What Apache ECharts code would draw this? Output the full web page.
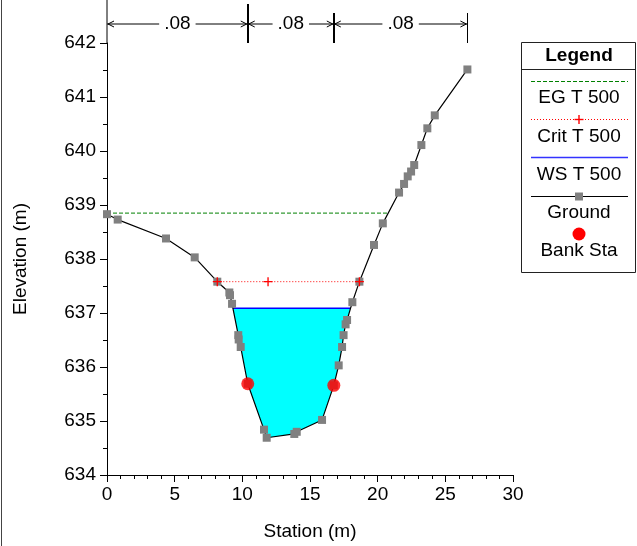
<!DOCTYPE html>
<html><head><meta charset="utf-8">
<script src="https://cdn.jsdelivr.net/npm/echarts@6/dist/echarts.min.js"></script>
<style>html,body{margin:0;padding:0;background:#fff}#c{width:637px;height:546px}</style>
</head><body><div id="c"></div>
<script>
// ---- data ----
const groundX = [0, 0.79, 4.36, 6.48, 8.15, 9.04, 9.09, 9.24, 9.70, 9.73, 9.88, 10.40, 11.60, 11.80, 13.84, 14.02, 15.89, 16.76, 17.12, 17.37, 17.48, 17.63, 17.74, 18.13, 18.65, 19.73, 20.38, 21.58, 21.95, 22.22, 22.47, 22.70, 23.23, 23.67, 24.22, 26.63];
const groundY = [638.83, 638.73, 638.38, 638.03, 637.58, 637.38, 637.33, 637.17, 636.59, 636.51, 636.37, 635.69, 634.84, 634.69, 634.76, 634.80, 635.02, 635.66, 636.03, 636.37, 636.59, 636.79, 636.87, 637.20, 637.58, 638.26, 638.66, 639.23, 639.39, 639.53, 639.62, 639.74, 640.11, 640.42, 640.66, 641.51];
const bankX = [10.40, 16.76];
const bankY = [635.69, 635.66];
const egElev = 638.85;
const egX = [0, 20.78];
const critElev = 637.58;
const critX = [8.15, 11.9, 18.65];
const wsElev = 637.09;
const nBreaks = [0, 10.40, 16.76, 26.63];
const nLabels = ['.08', '.08', '.08'];
const legendNames = ['EG T 500', 'Crit T 500', 'WS T 500', 'Ground', 'Bank Sta'];

const FONT = "'Liberation Sans', Arial, sans-serif";
const FS = 19;

// water polygon from ground and water surface
const waterPoly = [];
for (let i = 0; i < groundX.length - 1; i++) {
  const x0 = groundX[i], y0 = groundY[i], x1 = groundX[i+1], y1 = groundY[i+1];
  if (y0 <= wsElev) waterPoly.push([x0, y0]);
  if ((y0 - wsElev) * (y1 - wsElev) < 0) {
    const t = (wsElev - y0) / (y1 - y0);
    waterPoly.push([x0 + t * (x1 - x0), wsElev]);
  }
}
const wsEnds = waterPoly.filter(p => p[1] === wsElev).map(p => p[0]);

const chart = echarts.init(document.getElementById('c'), null, {renderer: 'canvas'});

const crossPath = 'path://M4,0h1.4v4h4v1.4h-4v4h-1.4v-4h-4v-1.4h4z';

const option = {
  animation: false,
  backgroundColor: '#fff',
  grid: {left: 107, right: 124, top: 43, bottom: 68},
  xAxis: {
    type: 'value', min: 0, max: 30, interval: 5,
    name: 'Station (m)', nameLocation: 'middle', nameGap: 47,
    nameTextStyle: {fontFamily: FONT, fontSize: FS, color: '#000'},
    axisLine: {show: true, lineStyle: {color: '#000', width: 1}},
    axisTick: {show: true, length: 7, lineStyle: {color: '#000'}},
    minorTick: {show: true, splitNumber: 5, length: 4, lineStyle: {color: '#000'}},
    axisLabel: {fontFamily: FONT, fontSize: FS, color: '#000', margin: 10},
    splitLine: {show: false}
  },
  yAxis: {
    type: 'value', min: 634, max: 642, interval: 1,
    name: 'Elevation (m)', nameLocation: 'middle', nameGap: 77, nameRotate: 90,
    nameTextStyle: {fontFamily: FONT, fontSize: FS, color: '#000'},
    axisLine: {show: true, lineStyle: {color: '#000', width: 1}},
    axisTick: {show: true, length: 7, lineStyle: {color: '#000'}},
    minorTick: {show: true, splitNumber: 2, length: 4, lineStyle: {color: '#000'}},
    axisLabel: {fontFamily: FONT, fontSize: FS, color: '#000', margin: 11},
    splitLine: {show: false}
  },
  series: [
    {
      type: 'custom', name: 'water', clip: false, z: 1,
      data: [0],
      renderItem: function (params, api) {
        return {
          type: 'polygon',
          shape: {points: waterPoly.map(p => api.coord(p))},
          style: {fill: '#00ffff', stroke: 'none'}
        };
      }
    },
    {
      type: 'line', name: legendNames[2], z: 3,
      data: wsEnds.map(x => [x, wsElev]),
      symbol: 'none',
      lineStyle: {color: '#0000ff', width: 1.5}
    },
    {
      type: 'line', name: legendNames[0], z: 3,
      data: egX.map(x => [x, egElev]),
      symbol: 'none',
      lineStyle: {color: '#008000', width: 1, type: [4, 2]}
    },
    {
      type: 'line', name: legendNames[3], z: 5,
      data: groundX.map((x, i) => [x, groundY[i]]),
      symbol: 'rect', symbolSize: 8, showAllSymbol: true,
      itemStyle: {color: '#808080'},
      lineStyle: {color: '#000', width: 1.2}
    },
    {
      type: 'line', name: legendNames[1], z: 8,
      data: critX.map(x => [x, critElev]),
      symbol: crossPath, symbolSize: 9,
      itemStyle: {color: '#ff0000'},
      lineStyle: {color: '#ff0000', width: 1, type: [1, 2]}
    },
    {
      type: 'scatter', name: legendNames[4], z: 6,
      data: bankX.map((x, i) => [x, bankY[i]]),
      symbol: 'circle', symbolSize: 13,
      itemStyle: {color: '#ff0000'}
    },
    {
      type: 'custom', name: 'nvalues', clip: false, z: 7,
      data: nLabels.map((l, i) => [nBreaks[i], nBreaks[i + 1]]),
      renderItem: function (params, api) {
        const i = params.dataIndex;
        const p0 = api.coord([api.value(0), 642]);
        const p1 = api.coord([api.value(1), 642]);
        const ay = p0[1] - 19;
        const children = [];
        children.push({type: 'line', shape: {x1: p0[0], y1: ay, x2: p1[0], y2: ay}, style: {stroke: '#000', lineWidth: 1}});
        children.push({type: 'polyline', shape: {points: [[p0[0] + 7, ay - 3], [p0[0] + 1, ay], [p0[0] + 7, ay + 3]]}, style: {stroke: '#000', fill: 'none', lineWidth: 1}});
        children.push({type: 'polyline', shape: {points: [[p1[0] - 7, ay - 3], [p1[0] - 1, ay], [p1[0] - 7, ay + 3]]}, style: {stroke: '#000', fill: 'none', lineWidth: 1}});
        const last = i === nLabels.length - 1;
        const topY = i === 0 ? p0[1] - 39 : p0[1] - 30;
        const vx = Math.round(p1[0]) + (last ? 0.5 : 0);
        children.push({type: 'line', shape: {x1: vx, y1: topY, x2: vx, y2: p0[1]}, style: {stroke: '#000', lineWidth: last ? 1 : 2}});
        children.push({type: 'text', x: (p0[0] + p1[0]) / 2, y: ay, style: {text: nLabels[i], fontFamily: FONT, fontSize: FS, fill: '#000', align: 'center', verticalAlign: 'middle', backgroundColor: '#fff', padding: [0, 5]}});
        if (i === 0) {
          children.push({type: 'line', shape: {x1: p0[0], y1: 0, x2: p0[0], y2: p0[1]}, style: {stroke: '#000', lineWidth: 1}});
        }
        return {type: 'group', children: children};
      }
    }
  ],
  graphic: [
    {type: 'line', shape: {x1: 1.5, y1: 0, x2: 1.5, y2: 546}, style: {stroke: '#444', lineWidth: 1}},
    {type: 'rect', shape: {x: 521.5, y: 42.5, width: 114, height: 230}, style: {fill: '#fff', stroke: '#222', lineWidth: 1}},
    {type: 'text', x: 579, y: 56, style: {text: 'Legend', font: 'bold ' + FS + 'px ' + FONT, fill: '#000', align: 'center', verticalAlign: 'middle'}},
    {type: 'line', shape: {x1: 521.5, y1: 69.5, x2: 635.5, y2: 69.5}, style: {stroke: '#222', lineWidth: 1}},
    {type: 'line', shape: {x1: 531, y1: 81.5, x2: 628, y2: 81.5}, style: {stroke: '#008000', lineWidth: 1, lineDash: [4, 2]}},
    {type: 'text', x: 579, y: 98, style: {text: legendNames[0], font: FS + 'px ' + FONT, fill: '#000', align: 'center', verticalAlign: 'middle'}},
    {type: 'line', shape: {x1: 531, y1: 119.5, x2: 628, y2: 119.5}, style: {stroke: '#ff0000', lineWidth: 1, lineDash: [1, 2]}},
    {type: 'rect', shape: {x: 578.3, y: 115, width: 1.4, height: 9}, style: {fill: '#ff0000'}},
    {type: 'rect', shape: {x: 574.5, y: 118.8, width: 9, height: 1.4}, style: {fill: '#ff0000'}},
    {type: 'text', x: 579, y: 136.5, style: {text: legendNames[1], font: FS + 'px ' + FONT, fill: '#000', align: 'center', verticalAlign: 'middle'}},
    {type: 'line', shape: {x1: 531, y1: 157.5, x2: 628, y2: 157.5}, style: {stroke: '#3333ff', lineWidth: 1.5}},
    {type: 'text', x: 579, y: 174.5, style: {text: legendNames[2], font: FS + 'px ' + FONT, fill: '#000', align: 'center', verticalAlign: 'middle'}},
    {type: 'line', shape: {x1: 531, y1: 196.5, x2: 628, y2: 196.5}, style: {stroke: '#000', lineWidth: 1}},
    {type: 'rect', shape: {x: 575, y: 192.5, width: 8, height: 8}, style: {fill: '#808080'}},
    {type: 'text', x: 579, y: 213, style: {text: legendNames[3], font: FS + 'px ' + FONT, fill: '#000', align: 'center', verticalAlign: 'middle'}},
    {type: 'circle', shape: {cx: 579, cy: 234, r: 6.5}, style: {fill: '#ff0000'}},
    {type: 'text', x: 579, y: 251, style: {text: legendNames[4], font: FS + 'px ' + FONT, fill: '#000', align: 'center', verticalAlign: 'middle'}}
  ]
};
chart.setOption(option);
</script>
</body></html>
